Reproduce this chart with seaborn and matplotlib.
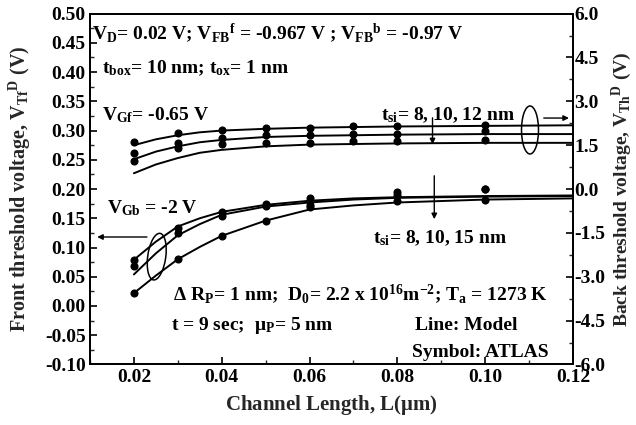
import numpy as np
import pandas as pd
import matplotlib
matplotlib.use("Agg")
import matplotlib.pyplot as plt
import matplotlib.transforms as mtransforms
import seaborn as sns
from matplotlib.patches import Ellipse
from matplotlib.ticker import MultipleLocator, FormatStrFormatter

# channel length grids (um)
L_LINE = [0.02, 0.025, 0.03, 0.035, 0.04, 0.05, 0.06, 0.07, 0.08, 0.10, 0.12]
L_PTS_UP = [0.02, 0.03, 0.04, 0.05, 0.06, 0.07, 0.08, 0.10]
L_PTS_LOW = [0.02, 0.03, 0.04, 0.05, 0.06, 0.08, 0.10]

# back threshold voltage (right axis, V), model lines
back_line_1 = [1.50, 1.70, 1.84, 1.94, 2.00, 2.06, 2.10, 2.12, 2.14, 2.16, 2.18]
back_line_2 = [1.02, 1.28, 1.46, 1.60, 1.68, 1.78, 1.82, 1.84, 1.86, 1.88, 1.88]
back_line_3 = [0.54, 0.84, 1.06, 1.24, 1.34, 1.46, 1.52, 1.54, 1.56, 1.58, 1.58]
# back threshold voltage, ATLAS symbols
back_pts_1 = [1.60, 1.90, 2.02, 2.08, 2.10, 2.16, 2.16, 2.18]
back_pts_2 = [1.22, 1.58, 1.76, 1.84, 1.84, 1.88, 1.88, 2.00]
back_pts_3 = [0.96, 1.40, 1.54, 1.58, 1.58, 1.66, 1.66, 1.68]

# front threshold voltage (left axis, V), model lines
front_line_1 = [0.079, 0.110, 0.136, 0.150, 0.161, 0.173, 0.180, 0.184, 0.186, 0.188, 0.189]
front_line_2 = [0.054, 0.090, 0.121, 0.140, 0.156, 0.170, 0.177, 0.182, 0.185, 0.187, 0.188]
front_line_3 = [0.022, 0.052, 0.080, 0.101, 0.120, 0.146, 0.165, 0.172, 0.177, 0.182, 0.184]
# front threshold voltage, ATLAS symbols
front_pts_1 = [0.079, 0.133, 0.160, 0.174, 0.184, 0.195, 0.200]
front_pts_2 = [0.068, 0.124, 0.154, 0.171, 0.173, 0.190, 0.200]
front_pts_3 = [0.022, 0.080, 0.120, 0.146, 0.169, 0.180, 0.182]

sns.set_theme(style="ticks")
plt.rcParams["font.family"] = ["Liberation Serif", "DejaVu Serif"]
plt.rcParams["font.weight"] = "bold"
plt.rcParams["mathtext.fontset"] = "custom"
plt.rcParams["mathtext.rm"] = "Liberation Serif:bold"
plt.rcParams["mathtext.bf"] = "Liberation Serif:bold"
plt.rcParams["mathtext.it"] = "Liberation Serif:bold"
plt.rcParams["axes.linewidth"] = 1.3
plt.rcParams["axes.edgecolor"] = "black"

fig = plt.figure(figsize=(6.36, 4.25), dpi=100)
fig.subplots_adjust(left=0.1415, right=0.901, top=0.968, bottom=0.1424)
ax = fig.add_subplot(111)
ax2 = ax.twinx()

lw = 1.4
for ys in [front_line_1, front_line_2, front_line_3]:
    sns.lineplot(x=L_LINE, y=ys, color="black", lw=lw, estimator=None, ax=ax)
for ys in [front_pts_1, front_pts_2, front_pts_3]:
    sns.scatterplot(x=L_PTS_LOW, y=ys, color="black", s=34, edgecolor="black",
                    linewidth=0, ax=ax, zorder=3)
for ys in [back_line_1, back_line_2, back_line_3]:
    sns.lineplot(x=L_LINE, y=ys, color="black", lw=lw, estimator=None, ax=ax2)
for ys in [back_pts_1, back_pts_2, back_pts_3]:
    sns.scatterplot(x=L_PTS_UP, y=ys, color="black", s=34, edgecolor="black",
                    linewidth=0, ax=ax2, zorder=3)

ax.set_xlim(0.01, 0.12)
ax.set_ylim(-0.10, 0.50)
ax2.set_ylim(-6.0, 6.0)

ax.set_xticks([0.02, 0.04, 0.06, 0.08, 0.10, 0.12])
ax.xaxis.set_minor_locator(MultipleLocator(0.01))
ax.xaxis.set_major_formatter(FormatStrFormatter("%.2f"))
ax.yaxis.set_major_locator(MultipleLocator(0.05))
ax.yaxis.set_minor_locator(MultipleLocator(0.025))
ax.yaxis.set_major_formatter(FormatStrFormatter("%.2f"))
ax2.yaxis.set_major_locator(MultipleLocator(1.5))
ax2.yaxis.set_minor_locator(MultipleLocator(0.75))
ax2.yaxis.set_major_formatter(FormatStrFormatter("%.1f"))

ax.tick_params(axis="both", which="major", direction="in", length=5, width=1.2,
               labelsize=14, pad=3, top=False, right=False, colors="black")
ax.tick_params(axis="both", which="minor", direction="in", length=3, width=1.0,
               top=False, right=False)
ax2.tick_params(axis="y", which="major", direction="in", length=5, width=1.2,
                labelsize=14, pad=1, colors="black")
ax2.tick_params(axis="y", which="minor", direction="in", length=3, width=1.0)
for a in (ax, ax2):
    for lab in a.get_xticklabels() + a.get_yticklabels():
        lab.set_fontweight("bold")

ax.set_xlabel(r"Channel Length, L($\mathrm{\mu}$m)", fontsize=15, fontweight="bold", labelpad=5)
ax.set_ylabel(r"Front threshold voltage, $\mathrm{V_{Tf}{}^{D}}$ (V)", fontsize=14.5, fontweight="bold")
ax.yaxis.set_label_coords(-0.117, 0.5)
ax2.set_ylabel(r"Back threshold voltage, $\mathrm{V_{Th}{}^{D}}$ (V)", fontsize=14, fontweight="bold")
ax2.yaxis.set_label_coords(1.076, 0.5)

fs = 14
txt = dict(fontsize=fs, fontweight="bold", va="baseline", ha="left", color="black")
ax.text(0.0105, 0.4556, r"$\mathrm{V_{D}}$= 0.02 V; $\mathrm{V_{FB}{}^{f}}$ = -0.967 V ; $\mathrm{V_{FB}{}^{b}}$ = -0.97 V", **txt)
ax.text(0.0127, 0.3988, r"$\mathrm{t_{box}}$= 10 nm; $\mathrm{t_{ox}}$= 1 nm", **txt)
ax.text(0.0127, 0.3168, r"$\mathrm{V_{Gf}}$= -0.65 V", **txt)
ax.text(0.0763, 0.318, r"$\mathrm{t_{si}}$= 8, 10, 12 nm", **txt)
ax.text(0.0138, 0.1585, r"$\mathrm{V_{Gb}}$ = -2 V", **txt)
ax.text(0.0744, 0.1073, r"$\mathrm{t_{si}}$= 8, 10, 15 nm", **txt)
ax.text(0.0289, 0.0104, r"$\mathrm{\Delta\ R_{P}}$= 1 nm;  $\mathrm{D_{0}}$= 2.2 x 10$\mathrm{^{16}}$m$\mathrm{^{-2}}$; $\mathrm{T_{a}}$ = 1273 K", **txt)
ax.text(0.0284, -0.0409, r"t = 9 sec;  $\mathrm{\mu_{P}}$= 5 nm", **txt)
ax.text(0.0841, -0.0409, "Line: Model", **txt)
ax.text(0.0834, -0.0865, "Symbol: ATLAS", **txt)

# ellipses grouping the curves (sized in inches, placed at data points)
def ring(xy, w, h, angle):
    tr = fig.dpi_scale_trans + mtransforms.ScaledTranslation(xy[0], xy[1], ax.transData)
    ax.add_patch(Ellipse((0, 0), w, h, angle=angle, transform=tr,
                         fill=False, ec="black", lw=1.1))

ring((0.1102, 0.301), 0.17, 0.48, 0)
ring((0.0252, 0.0844), 0.18, 0.47, -8)

arrow = dict(arrowstyle="-|>", color="black", lw=1.0, mutation_scale=8)
ax.annotate("", xy=(0.1197, 0.3214), xytext=(0.1127, 0.3214), arrowprops=arrow)
ax.annotate("", xy=(0.0110, 0.118), xytext=(0.0236, 0.118), arrowprops=arrow)
ax.annotate("", xy=(0.0880, 0.2718), xytext=(0.0880, 0.3265), arrowprops=arrow)
ax.annotate("", xy=(0.0884, 0.1437), xytext=(0.0884, 0.2274), arrowprops=arrow)

fig.savefig("out.png", dpi=100)
